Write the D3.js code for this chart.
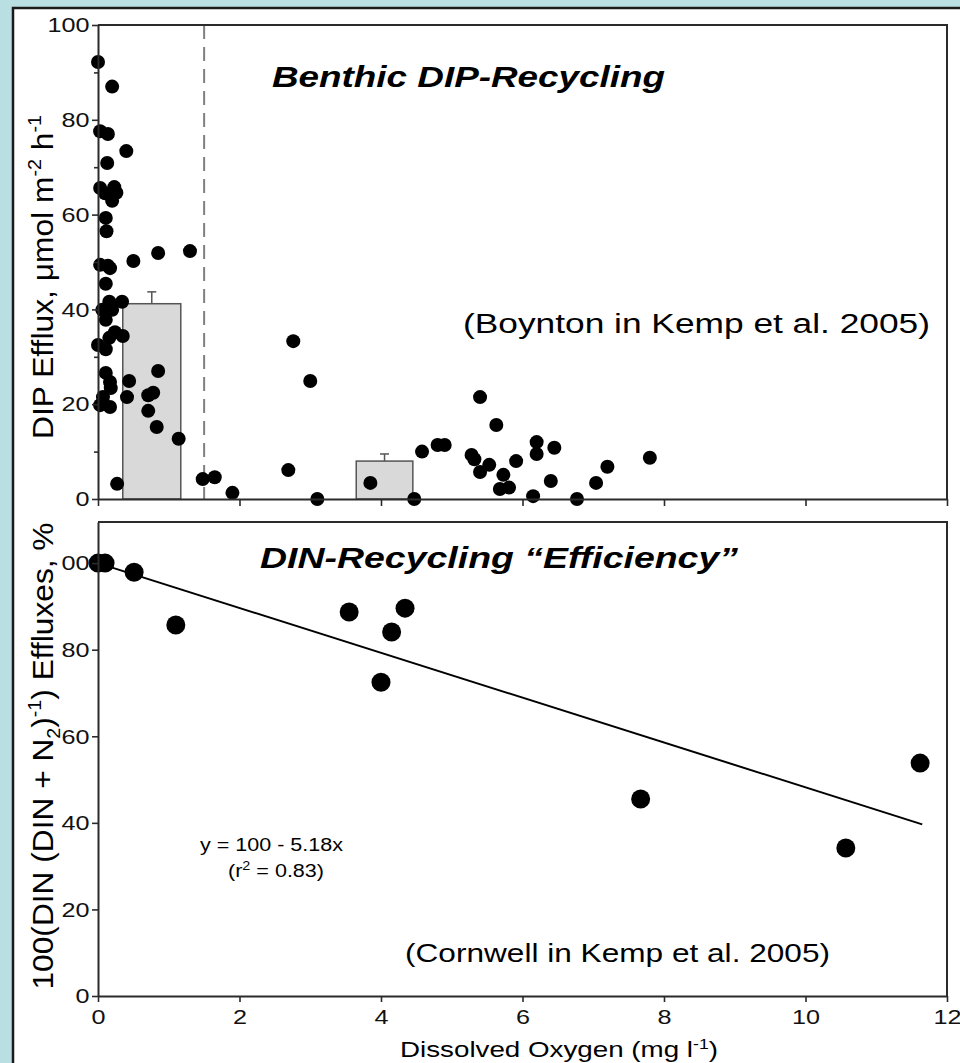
<!DOCTYPE html>
<html>
<head>
<meta charset="utf-8">
<script src="https://cdn.jsdelivr.net/npm/d3@7"></script>
<style>
  body { margin: 0; background: #badfe3; }
  svg { display: block; font-family: "Liberation Sans", Arial, sans-serif; }
</style>
</head>
<body>
<svg id="chart" width="960" height="1063"></svg>
<script>
// ---- Benthic DIP recycling: dissolved oxygen (mg/l) vs DIP efflux (µmol m-2 h-1)
const dipOxygen = [0.00, 0.20, 0.03, 0.14, 0.40, 0.13, 0.03, 0.23, 0.10, 0.26,
                   0.20, 0.11, 0.12, 0.50, 0.85, 1.30, 0.03, 0.14, 0.17, 0.11,
                   0.16, 0.34, 0.06, 0.20, 0.11, 0.24, 0.35, 0.16, 0.00, 0.11,
                   0.11, 0.17, 0.18, 0.44, 0.85, 0.07, 0.41, 0.71, 0.78, 0.03,
                   0.17, 0.71, 0.83, 1.14, 0.27, 1.48, 1.65, 1.90, 2.69, 2.76,
                   3.00, 3.10, 3.85, 4.47, 4.58, 4.80, 4.90, 5.28, 5.32, 5.40,
                   5.40, 5.53, 5.63, 5.68, 5.73, 5.81, 5.91, 6.15, 6.20, 6.20,
                   6.40, 6.45, 6.77, 7.04, 7.20, 7.80];
const dipEfflux = [92.2, 87.0, 77.6, 77.0, 73.4, 70.9, 65.6, 65.8, 64.5, 64.6,
                   62.9, 59.3, 56.5, 50.2, 51.9, 52.3, 49.4, 49.2, 48.7, 45.4,
                   41.6, 41.6, 39.9, 39.9, 37.8, 35.2, 34.4, 34.0, 32.5, 31.6,
                   26.6, 24.7, 23.4, 24.9, 27.0, 21.5, 21.5, 21.9, 22.4, 19.8,
                   19.4, 18.6, 15.2, 12.7, 3.2, 4.2, 4.6, 1.3, 6.1, 33.3,
                   24.9, 0.0, 3.4, 0.0, 10.0, 11.4, 11.4, 9.3, 8.4, 5.7,
                   21.5, 7.2, 15.6, 2.1, 5.1, 2.4, 8.0, 0.6, 12.0, 9.5,
                   3.8, 10.8, 0.0, 3.4, 6.8, 8.7];

// Mean efflux for the hypoxic and oxic groups (bar extent in mg/l, mean, standard error)
const binLow  = [0.35, 3.65];
const binHigh = [1.17, 4.45];
const binMean = [41.2, 8.0];
const binSE   = [2.5, 1.5];
const hypoxiaThreshold = 1.5;

// ---- DIN recycling efficiency: 100*DIN/(DIN+N2) vs dissolved oxygen
const dinOxygen     = [0.00, 0.10, 0.51, 1.10, 3.55, 4.00, 4.15, 4.34, 7.67, 10.57, 11.62];
const dinEfficiency = [100.0, 100.0, 97.9, 85.7, 88.7, 72.5, 84.1, 89.6, 45.5, 34.2, 53.8];
const fitIntercept = 100;
const fitSlope = -5.18;
const fitRange = [0, 11.65];

// ---- Axis ticks
const xTicks = [0, 2, 4, 6, 8, 10, 12];
const dipTicks = [0, 20, 40, 60, 80, 100];
const dipMinorTicks = [10, 30, 50, 70, 90];
const dinTicks = [0, 20, 40, 60, 80, 100];

const svg = d3.select("#chart");
const INK = "#2b2b2b";
const STRETCH = "scale(1.2,1)";

// White slide panel
svg.append("rect")
  .attr("x", 13).attr("y", 8).attr("width", 980).attr("height", 1100)
  .attr("fill", "#ffffff").attr("stroke", "#1a1a1a").attr("stroke-width", 2.5);

// Scales (shared oxygen axis)
const x = d3.scaleLinear().domain([0, 12]).range([98, 947]);
const yTop = d3.scaleLinear().domain([0, 100]).range([499, 25]);
const yBot = d3.scaleLinear().domain([0, 109.5]).range([996, 522]);

// ================= Upper panel: DIP efflux =================
const dipPanel = svg.append("g");

// group means
const bars = binMean.map((m, i) => ({ lo: binLow[i], hi: binHigh[i], mean: m, se: binSE[i] }));
dipPanel.selectAll("rect.bar").data(bars).join("rect")
  .attr("class", "bar")
  .attr("x", d => x(d.lo))
  .attr("width", d => x(d.hi) - x(d.lo))
  .attr("y", d => yTop(d.mean))
  .attr("height", d => yTop(0) - yTop(d.mean))
  .attr("fill", "#d9d9d9").attr("stroke", "#555").attr("stroke-width", 1.5);

// upper error whiskers
const whisk = dipPanel.selectAll("g.whisker").data(bars).join("g").attr("class", "whisker")
  .attr("stroke", "#555").attr("stroke-width", 1.5);
whisk.append("line")
  .attr("x1", d => x((d.lo + d.hi) / 2)).attr("x2", d => x((d.lo + d.hi) / 2))
  .attr("y1", d => yTop(d.mean)).attr("y2", d => yTop(d.mean + d.se));
whisk.append("line")
  .attr("x1", d => x((d.lo + d.hi) / 2) - 4.5).attr("x2", d => x((d.lo + d.hi) / 2) + 4.5)
  .attr("y1", d => yTop(d.mean + d.se)).attr("y2", d => yTop(d.mean + d.se));

// hypoxia threshold
dipPanel.append("line")
  .attr("x1", x(hypoxiaThreshold)).attr("x2", x(hypoxiaThreshold))
  .attr("y1", yTop(100)).attr("y2", yTop(0))
  .attr("stroke", "#808080").attr("stroke-width", 2).attr("stroke-dasharray", "14,8");

// frame (top and right edges)
dipPanel.append("path")
  .attr("d", `M${x(0)},${yTop(100)}H${x(12)}V${yTop(0)}`)
  .attr("fill", "none").attr("stroke", INK).attr("stroke-width", 2);

// observations
dipPanel.selectAll("circle").data(dipOxygen.map((o, i) => [o, dipEfflux[i]])).join("circle")
  .attr("cx", d => x(d[0])).attr("cy", d => yTop(d[1])).attr("r", 7).attr("fill", "#000");

// axes
dipPanel.append("g").attr("transform", `translate(0,${yTop(0)})`)
  .call(d3.axisBottom(x).tickValues(xTicks).tickSize(7).tickSizeOuter(0).tickFormat(""));
const dipYMinor = dipPanel.append("g").attr("transform", `translate(${x(0)},0)`)
  .call(d3.axisLeft(yTop).tickValues(dipMinorTicks).tickSize(4).tickSizeOuter(0).tickFormat(""));
dipYMinor.select(".domain").remove();
dipPanel.append("g").attr("class", "yaxis").attr("transform", `translate(${x(0)},0)`)
  .call(d3.axisLeft(yTop).tickValues(dipTicks).tickSize(6).tickSizeOuter(0).tickPadding(1));

// ================= Lower panel: DIN efficiency =================
const dinPanel = svg.append("g");

dinPanel.append("path")
  .attr("d", `M${x(0)},${yBot.range()[1]}H${x(12)}V${yBot(0)}`)
  .attr("fill", "none").attr("stroke", INK).attr("stroke-width", 2);

// linear fit
dinPanel.append("line")
  .attr("x1", x(fitRange[0])).attr("y1", yBot(fitIntercept + fitSlope * fitRange[0]))
  .attr("x2", x(fitRange[1])).attr("y2", yBot(fitIntercept + fitSlope * fitRange[1]))
  .attr("stroke", "#000").attr("stroke-width", 2);

dinPanel.selectAll("circle").data(dinOxygen.map((o, i) => [o, dinEfficiency[i]])).join("circle")
  .attr("cx", d => x(d[0])).attr("cy", d => yBot(d[1])).attr("r", 9.5).attr("fill", "#000");

dinPanel.append("g").attr("transform", `translate(0,${yBot(0)})`)
  .call(d3.axisBottom(x).tickValues(xTicks).tickSize(6).tickSizeOuter(0).tickPadding(7));
dinPanel.append("g").attr("class", "yaxis").attr("transform", `translate(${x(0)},0)`)
  .call(d3.axisLeft(yBot).tickValues(dinTicks).tickSize(6).tickSizeOuter(0).tickPadding(1));

// shared axis styling
svg.selectAll(".domain").attr("stroke", INK).attr("stroke-width", 2);
svg.selectAll(".tick line").attr("stroke", INK).attr("stroke-width", 1.6);
svg.selectAll(".tick text")
  .attr("font-size", 21).attr("fill", "#111")
  .attr("font-family", "'Liberation Sans', Arial, sans-serif")
  .attr("transform", STRETCH);

// ================= Text =================
function label(txt, opts) {
  const t = svg.append("text")
    .attr("x", opts.x).attr("y", opts.y)
    .attr("font-size", opts.size)
    .attr("fill", "#000")
    .text(txt);
  if (opts.bold) t.attr("font-weight", "bold");
  if (opts.italic) t.attr("font-style", "italic");
  if (opts.anchor) t.attr("text-anchor", opts.anchor);
  if (opts.length) t.attr("textLength", opts.length).attr("lengthAdjust", "spacingAndGlyphs");
  return t;
}

label("Benthic DIP-Recycling", { x: 272, y: 87, size: 29, bold: true, italic: true, length: 393 });
label("DIN-Recycling \u201CEfficiency\u201D", { x: 260, y: 568, size: 30, bold: true, italic: true, length: 478 });
label("(Boynton in Kemp et al. 2005)", { x: 463, y: 333, size: 27, length: 467 });
label("(Cornwell in Kemp et al. 2005)", { x: 405, y: 962, size: 26, length: 425 });
label("y = 100 - 5.18x", { x: 200, y: 851, size: 18, length: 143 });

// (r² = 0.83)
const r2 = svg.append("text").attr("x", 228).attr("y", 877).attr("font-size", 18)
  .attr("textLength", 96).attr("lengthAdjust", "spacingAndGlyphs");
r2.append("tspan").text("(r");
r2.append("tspan").attr("font-size", 12).attr("dy", -7).text("2");
r2.append("tspan").attr("dy", 7).text(" = 0.83)");

// x-axis title
const xt = svg.append("text").attr("x", 400).attr("y", 1057).attr("font-size", 22)
  .attr("textLength", 318).attr("lengthAdjust", "spacingAndGlyphs");
xt.append("tspan").text("Dissolved Oxygen (mg l");
xt.append("tspan").attr("font-size", 14).attr("dy", -8).text("-1");
xt.append("tspan").attr("dy", 8).text(")");

// upper y-axis title
const yt1 = svg.append("text").attr("transform", "translate(53,277) rotate(-90)")
  .attr("text-anchor", "middle").attr("font-size", 29)
  .attr("textLength", 324).attr("lengthAdjust", "spacingAndGlyphs");
yt1.append("tspan").text("DIP Efflux, \u03BCmol m");
yt1.append("tspan").attr("font-size", 18).attr("dy", -12).text("-2");
yt1.append("tspan").attr("dy", 12).text(" h");
yt1.append("tspan").attr("font-size", 18).attr("dy", -12).text("-1");

// lower y-axis title sits in a white text box
svg.append("rect").attr("x", 20).attr("y", 515).attr("width", 41).attr("height", 482)
  .attr("fill", "#ffffff");
const yt2 = svg.append("text").attr("transform", "translate(53,756) rotate(-90)")
  .attr("text-anchor", "middle").attr("font-size", 29)
  .attr("textLength", 467).attr("lengthAdjust", "spacingAndGlyphs");
yt2.append("tspan").text("100(DIN (DIN + N");
yt2.append("tspan").attr("font-size", 18).attr("dy", 7).text("2");
yt2.append("tspan").attr("dy", -7).text(")");
yt2.append("tspan").attr("font-size", 18).attr("dy", -12).text("-1");
yt2.append("tspan").attr("dy", 12).text(") Effluxes, %");
</script>
</body>
</html>
